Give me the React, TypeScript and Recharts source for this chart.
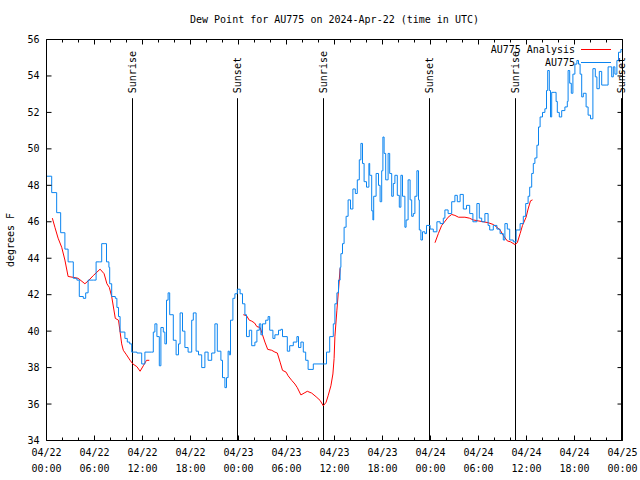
import { LineChart, Line, XAxis, YAxis, ReferenceLine } from "recharts";

// hours since 2024-04-22 00:00 UTC
const blueHours = [
  0, 0.65, 1.27, 1.77, 2.3, 2.7, 3.1, 3.35, 3.8, 4.1, 4.6, 4.9, 5.2, 5.85, 6.2, 6.6, 6.9, 7.2, 7.5, 7.8,
  7.9, 8.15, 8.6, 8.8, 9.0, 9.2, 9.8, 10.1, 10.4, 10.65, 11.3, 11.9, 12.3, 13.15, 13.35, 13.55, 13.8, 14.1, 14.3, 14.6,
  14.8, 15.0, 15.2, 15.4, 15.85, 16.2, 16.5, 16.7, 17.0, 17.3, 17.7, 18.15, 18.35, 18.7, 19.0, 19.4, 19.8, 20.2, 20.65, 21.05,
  21.35, 21.8, 22.0, 22.3, 22.5, 22.7, 22.85, 23.0, 23.3, 23.55, 23.85, 24.2, 24.5, 24.8, 25.0, 25.35, 25.65, 26.05, 26.3, 26.6,
  26.8, 27.0, 27.4, 27.7, 27.9, 28.3, 28.55, 29.0, 29.3, 29.5, 30.1, 30.4, 30.85, 31.3, 31.5, 31.8, 32.1, 32.4, 32.7, 33.35,
  34.6, 35.0, 35.4, 35.85, 36.05, 36.3, 36.5, 36.7, 36.8, 37.0, 37.2, 37.45, 37.7, 38.0, 38.3, 38.6, 38.85, 39.1, 39.3, 39.5,
  39.7, 40.0, 40.3, 40.4, 40.65, 40.8, 40.9, 41.2, 41.5, 41.7, 41.9, 42.05, 42.2, 42.4, 42.7, 42.9, 43.15, 43.35, 43.55, 43.85,
  44.1, 44.3, 44.5, 44.8, 44.95, 45.2, 45.45, 45.65, 45.85, 46.05, 46.3, 46.5, 46.6, 46.8, 47.0, 47.3, 47.5, 47.95, 48.35, 48.8,
  49.2, 49.6, 49.8, 50.2, 50.65, 51.05, 51.35, 51.7, 52.1, 52.5, 52.9, 53.3, 53.55, 53.8, 54.1, 54.4, 54.8, 55.2, 55.4, 55.85,
  56.3, 56.7, 57.1, 57.3, 57.6, 57.9, 58.35, 58.7, 59.2, 59.6, 59.9, 60.2, 60.4, 60.65, 60.85, 61.05, 61.3, 61.5, 61.7, 62.0,
  62.3, 62.5, 62.65, 62.85, 63.0, 63.15, 63.45, 63.7, 63.85, 64.1, 64.4, 64.8, 65.1, 65.2, 65.4, 65.6, 65.8, 66.05, 66.3, 66.5,
  66.7, 66.9, 67.1, 67.45, 67.7, 68.0, 68.3, 68.6, 68.8, 69.1, 69.4, 69.95, 70.2, 70.4, 70.65, 70.85, 71.05, 71.3, 71.5, 71.8,
  72.0,
];
const blueTemps = [
  48.5, 47.6, 46.5, 45.4, 44.5, 43.8, 43.8, 42.9, 42.8, 41.9, 41.8, 42.1, 42.8, 42.8, 43.8, 43.8, 44.8, 44.8, 43.8, 43.5,
  42.6, 41.9, 41.8, 41.3, 40.8, 39.95, 39.6, 39.4, 39.3, 38.85, 38.8, 38.2, 38.85, 38.85, 39.95, 40.4, 39.7, 38.1, 40.2, 39.95,
  39.3, 41.7, 42.1, 40.9, 39.5, 38.7, 39.3, 41.0, 40.0, 39.1, 38.85, 40.6, 41.0, 38.9, 38.7, 38.0, 38.85, 38.4, 38.8, 40.4,
  38.9, 38.4, 37.45, 36.9, 37.45, 38.9, 38.7, 40.6, 41.8, 42.05, 42.3, 42.05, 41.5, 40.9, 39.7, 40.05, 39.2, 39.4, 40.05, 40.4,
  39.8, 40.4, 40.6, 40.8, 40.05, 39.6, 39.8, 40.05, 40.1, 39.7, 38.9, 39.2, 39.4, 39.7, 39.1, 39.4, 38.85, 38.4, 37.9, 38.2,
  38.2, 38.85, 39.7, 40.4, 41.5, 42.1, 42.8, 43.5, 44.25, 44.8, 45.7, 46.3, 47.2, 46.7, 47.8, 47.55, 48.3, 49.4, 50.3, 49.2,
  48.2, 47.9, 49.2, 48.55, 46.6, 46.1, 47.4, 48.65, 48.0, 47.1, 48.8, 50.65, 49.75, 48.3, 49.75, 48.65, 47.4, 48.1, 48.55, 47.45,
  46.8, 48.55, 47.4, 45.7, 46.1, 48.3, 47.2, 46.3, 46.45, 47.4, 48.8, 47.2, 45.55, 45.0, 45.45, 45.35, 45.8, 45.6, 45.45, 46.0,
  45.9, 46.2, 46.65, 46.45, 47.1, 47.45, 47.1, 47.5, 46.7, 46.9, 46.45, 46.0, 46.0, 47.0, 46.2, 46.0, 46.45, 45.8, 45.55, 45.8,
  45.6, 45.35, 45.0, 45.9, 45.6, 45.0, 44.9, 45.55, 45.9, 46.3, 47.0, 47.4, 47.9, 48.65, 49.2, 49.5, 50.2, 51.2, 51.75, 52.0,
  52.2, 53.2, 54.3, 53.2, 51.75, 53.1, 53.1, 52.6, 52.0, 51.75, 52.1, 52.3, 52.6, 54.3, 53.6, 53.05, 54.1, 54.65, 54.85, 54.65,
  54.1, 52.85, 53.05, 52.3, 51.85, 51.65, 54.4, 53.95, 53.3, 54.25, 53.5, 53.5, 54.5, 54.5, 53.95, 54.5, 54.1, 54.85, 55.3, 55.45,
  55.5,
];

// analysis series, null = gap
const redHours = [
  0.73, 1.05, 1.45, 1.9, 2.3, 2.7, 3.35, 3.95, 4.8, 5.2, 5.85, 6.7, 7.2, 7.55, 7.85, 8.15, 8.6, 9.0, 9.2, 9.4,
  9.6, 10.0, 10.45, 10.8, 11.3, 11.7, 12.1, 12.5, 12.85, 18,
  24.6, 25.0, 25.35, 25.65, 26.0, 26.3, 26.7, 27.0, 27.3, 27.65, 28.15, 28.55, 28.85, 29.2, 29.5, 29.95, 30.2, 30.65, 31.05, 31.35,
  31.8, 32.2, 32.6, 33.15, 33.7, 34.2, 34.6, 34.95, 35.2, 35.55, 35.8, 35.95, 36.05, 36.3, 36.5, 36.7, 42,
  48.56, 48.98, 49.4, 49.95, 50.2, 50.65, 51.05, 51.5, 52.3, 52.85, 53.35, 53.95, 54.6, 55.2, 55.85, 56.3, 56.7, 57.1, 57.6, 58.0,
  58.55, 58.85, 59.2, 59.5, 59.95, 60.2, 60.5, 60.75,
];
const redTemps = [
  46.2, 45.7, 45.1, 44.6, 43.9, 43.0, 42.95, 42.9, 42.6, 42.75, 43.05, 43.4, 43.15, 42.6, 42.4, 41.9, 40.7, 40.6, 39.95, 39.3,
  38.95, 38.7, 38.4, 38.2, 38.05, 37.8, 38.1, 38.4, 38.4, null,
  40.9, 40.85, 40.6, 40.55, 40.45, 40.25, 40.2, 39.8, 39.4, 39.0, 38.95, 38.85, 38.8, 38.3, 37.85, 37.75, 37.55, 37.3, 37.1, 36.9,
  36.5, 36.6, 36.7, 36.6, 36.4, 36.2, 35.9, 36.1, 36.45, 37.0, 37.65, 38.5, 39.7, 41.15, 42.25, 43.45, null,
  44.85, 45.35, 45.8, 46.1, 46.25, 46.4, 46.35, 46.25, 46.25, 46.2, 46.1, 46.05, 46.0, 45.95, 45.85, 45.7, 45.55, 45.25, 44.95, 44.9,
  44.75, 44.85, 45.35, 45.8, 46.25, 46.7, 47.15, 47.2,
];

const sunriseHours = [10.75, 34.625, 58.625];
const sunsetHours = [23.875, 47.875, 71.875];

const xTicks = [0, 2, 4, 6, 8, 10, 12, 14, 16, 18, 20, 22, 24, 26, 28, 30, 32, 34, 36, 38, 40, 42, 44, 46, 48, 50, 52, 54, 56, 58, 60, 62, 64, 66, 68, 70, 72];
const yTicks = [34, 36, 38, 40, 42, 44, 46, 48, 50, 52, 54, 56];
const dayLabels = ["04/22", "04/23", "04/24", "04/25"];
const timeLabels = ["00:00", "06:00", "12:00", "18:00"];

const FONT = "'DejaVu Sans Mono', monospace";
const BLUE = "#0a84f0";
const RED = "#ff0000";

const bluePoints = blueHours.map((h, i) => ({ h, v: blueTemps[i] }));
const redPoints = redHours.map((h, i) => ({ h, v: redTemps[i] }));

function BottomTick({ x, y, payload }: any) {
  const h = payload.value;
  const major = h % 6 === 0;
  return (
    <g>
      <line x1={x} x2={x} y1={y} y2={y - (major ? 5 : 3)} stroke="#000" />
      {major && (
        <text x={x} y={y} textAnchor="middle" fontFamily={FONT} fontSize={10} fill="#000">
          <tspan x={x} dy={15}>{dayLabels[Math.floor(h / 24)]}</tspan>
          <tspan x={x} dy={16}>{timeLabels[(h % 24) / 6]}</tspan>
        </text>
      )}
    </g>
  );
}

function TopTick({ x, y, payload }: any) {
  const major = payload.value % 6 === 0;
  return <line x1={x} x2={x} y1={y} y2={y + (major ? 5 : 3)} stroke="#000" />;
}

function LeftTick({ x, y, payload }: any) {
  return (
    <g>
      <line x1={x} x2={x + 5} y1={y} y2={y} stroke="#000" />
      <text x={x - 7} y={y} dy="0.35em" textAnchor="end" fontFamily={FONT} fontSize={10} fill="#000">
        {payload.value}
      </text>
    </g>
  );
}

function RightTick({ x, y }: any) {
  return <line x1={x} x2={x - 5} y1={y} y2={y} stroke="#000" />;
}

function YLabel({ viewBox }: any) {
  const cx = 10;
  const cy = viewBox.y + viewBox.height / 2;
  return (
    <text x={cx} y={cy} transform={`rotate(-90 ${cx} ${cy})`} textAnchor="middle" dy="0.35em" fontFamily={FONT} fontSize={10} fill="#000">
      degrees F
    </text>
  );
}

function SunLabel({ viewBox, text }: any) {
  const x = viewBox.x;
  const y = viewBox.y - 5;
  return (
    <text x={x} y={y} transform={`rotate(-90 ${x} ${y})`} textAnchor="start" dy="0.35em" fontFamily={FONT} fontSize={10} fill="#000">
      {text}
    </text>
  );
}

export default function App() {
  const events = [
    ...sunriseHours.map((h) => ({ h, text: "Sunrise" })),
    ...sunsetHours.map((h) => ({ h, text: "Sunset" })),
  ];
  return (
    <div style={{ position: "absolute", left: 0, top: 0, width: 640, height: 480, background: "#fff" }}>
      <LineChart width={640} height={480} margin={{ top: 38.5, right: 16.5, bottom: 0, left: 0 }}>
        <XAxis
          xAxisId="bottom"
          type="number"
          dataKey="h"
          domain={[0, 72]}
          allowDataOverflow
          ticks={xTicks}
          interval={0}
          height={39.5}
          stroke="#000"
          tickLine={false}
          tickSize={0}
          tickMargin={0}
          tick={<BottomTick />}
        />
        <XAxis
          xAxisId="top"
          orientation="top"
          type="number"
          dataKey="h"
          domain={[0, 72]}
          allowDataOverflow
          ticks={xTicks}
          interval={0}
          height={1}
          stroke="#000"
          tickLine={false}
          tickSize={0}
          tickMargin={0}
          tick={<TopTick />}
        />
        <YAxis
          yAxisId="left"
          type="number"
          domain={[34, 56]}
          allowDataOverflow
          ticks={yTicks}
          interval={0}
          width={46.5}
          stroke="#000"
          tickLine={false}
          tickSize={0}
          tickMargin={0}
          tick={<LeftTick />}
          label={<YLabel />}
        />
        <YAxis
          yAxisId="right"
          orientation="right"
          type="number"
          domain={[34, 56]}
          allowDataOverflow
          ticks={yTicks}
          interval={0}
          width={1}
          stroke="#000"
          tickLine={false}
          tickSize={0}
          tickMargin={0}
          tick={<RightTick />}
        />
        {events.map((e) => (
          <ReferenceLine
            key={e.text + e.h}
            xAxisId="bottom"
            yAxisId="left"
            segment={[{ x: e.h, y: 52.78 }, { x: e.h, y: 34 }]}
            stroke="#000"
            strokeWidth={1}
            label={<SunLabel text={e.text} />}
          />
        ))}
        <Line
          xAxisId="bottom"
          yAxisId="left"
          data={redPoints}
          dataKey="v"
          type="linear"
          stroke={RED}
          strokeWidth={1}
          dot={false}
          activeDot={false}
          connectNulls={false}
          isAnimationActive={false}
        />
        <Line
          xAxisId="bottom"
          yAxisId="left"
          data={bluePoints}
          dataKey="v"
          type="stepAfter"
          stroke={BLUE}
          strokeWidth={1}
          dot={false}
          activeDot={false}
          isAnimationActive={false}
        />
      </LineChart>

      {/* title */}
      <div style={{ position: "absolute", left: 0, top: 14, width: 669, textAlign: "center", fontFamily: FONT, fontSize: 10, lineHeight: "12px", color: "#000" }}>
        Dew Point for AU775 on 2024-Apr-22 (time in UTC)
      </div>

      {/* legend */}
      <div style={{ position: "absolute", right: 65, top: 44, textAlign: "right", fontFamily: FONT, fontSize: 10, lineHeight: "12.5px", color: "#000" }}>
        <div>AU775 Analysis</div>
        <div>AU775</div>
      </div>
      <div style={{ position: "absolute", left: 581, top: 49, width: 30, height: 1, background: RED }} />
      <div style={{ position: "absolute", left: 581, top: 62, width: 30, height: 1, background: BLUE }} />
    </div>
  );
}
